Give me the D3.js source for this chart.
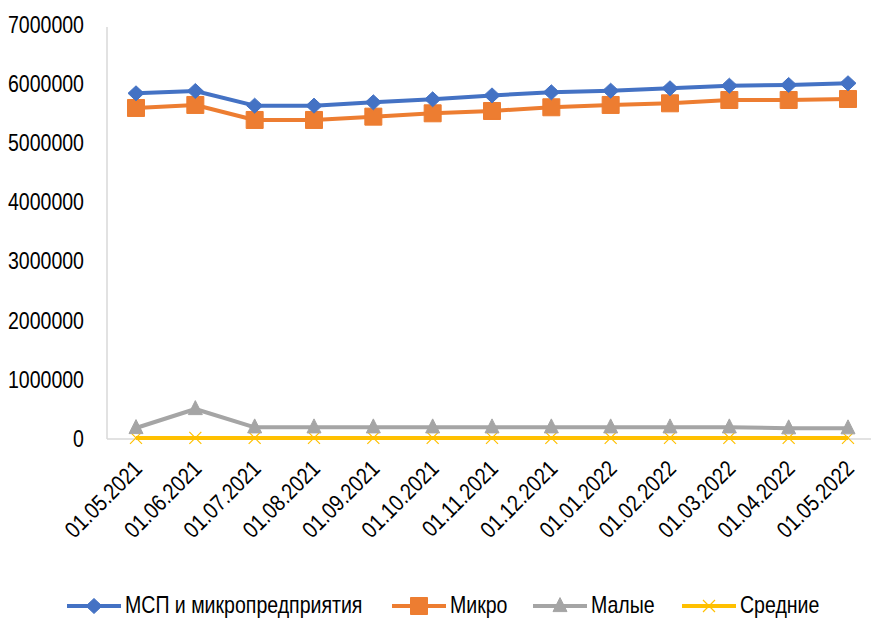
<!DOCTYPE html>
<html><head><meta charset="utf-8">
<script src="https://cdn.jsdelivr.net/npm/d3@7"></script>
<style>
html,body{margin:0;padding:0;background:#fff;}
text{font-family:"Liberation Sans",Arial,sans-serif;fill:#000;}
</style></head><body>
<svg id="chart" width="871" height="619"></svg>
<script>
const categories = ["01.05.2021","01.06.2021","01.07.2021","01.08.2021","01.09.2021","01.10.2021","01.11.2021","01.12.2021","01.01.2022","01.02.2022","01.03.2022","01.04.2022","01.05.2022"];
const mspValues   = [5845000,5884000,5636000,5636000,5693000,5744000,5810000,5862000,5889000,5930000,5974000,5986000,6015000];
const microValues = [5597000,5648000,5394000,5394000,5450000,5507000,5546000,5609000,5648000,5676000,5732000,5732000,5749000];
const maloValues  = [186000,507000,198000,198000,198000,198000,198000,198000,198000,198000,198000,182000,182000];
const srednValues = [18000,18000,18000,18000,18000,18000,18000,18000,18000,18000,18000,18000,18000];
const yTicks = [0,1000000,2000000,3000000,4000000,5000000,6000000,7000000];
const seriesNames = ["МСП и микропредприятия","Микро","Малые","Средние"];
const seriesColors = ["#4472C4","#ED7D31","#A5A5A5","#FFC000"];
const seriesMarkers = ["diamond","square","triangle","cross"];
const seriesValues = [mspValues, microValues, maloValues, srednValues];

const FS = 23, SX = 0.85;
const svg = d3.select("#chart");
const x = d3.scalePoint().domain(categories).range([136, 848]);
const y = d3.scaleLinear().domain([0, 7000000]).range([439, 25]);

// axes lines
svg.append("line").attr("x1",107).attr("x2",871).attr("y1",439).attr("y2",439)
  .attr("stroke","#d9d9d9").attr("stroke-width",1.5);
svg.append("line").attr("x1",107).attr("x2",107).attr("y1",27).attr("y2",439)
  .attr("stroke","#d9d9d9").attr("stroke-width",1.5);

// y tick labels
const yAxis = d3.axisLeft(y).tickValues(yTicks).tickSize(0).tickPadding(0).tickFormat(d3.format("d"));
const yg = svg.append("g").attr("transform","translate(84,0)").call(yAxis);
yg.select(".domain").remove();
yg.selectAll("text").attr("font-size",FS).attr("fill","#000")
  .style("font-family",'"Liberation Sans",Arial,sans-serif')
  .attr("x",0).attr("transform",`scale(${SX},1)`);

// x tick labels
const xAxis = d3.axisBottom(x).tickSize(0).tickPadding(0);
const xg = svg.append("g").attr("transform","translate(0,439)").call(xAxis);
xg.select(".domain").remove();
xg.selectAll("text")
  .attr("font-size",FS).attr("fill","#000")
  .style("font-family",'"Liberation Sans",Arial,sans-serif')
  .attr("text-anchor","end")
  .attr("dy",null).attr("y",null)
  .attr("transform",`translate(7,31) rotate(-45) scale(${SX},1)`);

function markerPath(type, cx, cy){
  if(type==="diamond"){ const w=8,h=7.5; return `M${cx},${cy-h}L${cx+w},${cy}L${cx},${cy+h}L${cx-w},${cy}Z`; }
  if(type==="square"){ const s=8.5; return `M${cx-s},${cy-s}H${cx+s}V${cy+s}H${cx-s}Z`; }
  if(type==="triangle"){ const w=7,h=14; return `M${cx},${cy-h*0.6}L${cx+w},${cy+h*0.4}L${cx-w},${cy+h*0.4}Z`; }
  if(type==="cross"){ const s=6; return `M${cx-s},${cy-s}L${cx+s},${cy+s}M${cx-s},${cy+s}L${cx+s},${cy-s}`; }
}

const line = d3.line().x((d,i)=>x(categories[i])).y(d=>y(d));
[3,2,1,0].forEach(si=>{
  const vals = seriesValues[si], col = seriesColors[si], mk = seriesMarkers[si];
  const g = svg.append("g");
  g.append("path").attr("d", line(vals)).attr("fill","none").attr("stroke",col)
    .attr("stroke-width",4).attr("stroke-linejoin","round");
  vals.forEach((v,i)=>{
    const cx = x(categories[i]), cy = y(v);
    const p = g.append("path").attr("d", markerPath(mk,cx,cy));
    if(mk==="cross") p.attr("fill","none").attr("stroke",col).attr("stroke-width",1.2);
    else p.attr("fill",col).attr("stroke",col).attr("stroke-width",1);
  });
});

// legend
const legendX = [67, 392, 533, 682];
const lg = svg.append("g");
seriesNames.forEach((name,i)=>{
  const lx = legendX[i], ly = 606;
  lg.append("line").attr("x1",lx).attr("x2",lx+54).attr("y1",ly).attr("y2",ly)
    .attr("stroke",seriesColors[i]).attr("stroke-width",4);
  const p = lg.append("path").attr("d", markerPath(seriesMarkers[i], lx+27, ly));
  if(seriesMarkers[i]==="cross") p.attr("fill","none").attr("stroke",seriesColors[i]).attr("stroke-width",1.2);
  else p.attr("fill",seriesColors[i]).attr("stroke",seriesColors[i]);
  lg.append("text").attr("transform",`translate(${lx+58},${ly}) scale(${SX},1)`)
    .attr("dy","0.3em").attr("font-size",FS).text(name);
});
</script>
</body></html>
